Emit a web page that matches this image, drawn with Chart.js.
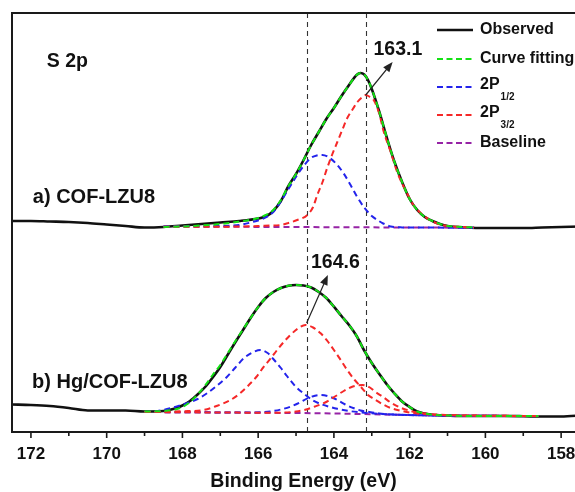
<!DOCTYPE html>
<html><head><meta charset="utf-8">
<script src="https://cdn.jsdelivr.net/npm/chart.js@4.4.1/dist/chart.umd.min.js"></script>
<style>
html,body{margin:0;padding:0;overflow:hidden;background:#fff;width:575px;height:492px}
#wrap{width:600px;height:492px;position:relative}
</style>
</head><body><div id="wrap"><canvas id="c" width="600" height="492"></canvas></div>
<script>
// ---------- tick labels ----------
const xMajorTicks = [172, 170, 168, 166, 164, 162, 160, 158];
const xMinorTicks = [171, 169, 167, 165, 163, 161, 159];
const peakLines = [164.7, 163.15];

// ---------- a) COF-LZU8 (upper spectrum) ----------
const aObsE = [172.5,172,171.5,171,170.5,170,169.5,169,168.5,168,167.5,167,166.5,166,165.8,165.6,165.4,165.2,165,164.8,164.6,164.4,164.2,164,163.8,163.6,163.4,163.3,163.2,163.1,163,162.8,162.6,162.4,162.2,162,161.8,161.6,161.4,161.2,161,160.5,160,159.5,159,158.5,158,157.5,157];
const aObsI = [211,211,210.5,210,209,207.5,206,204.5,205,206.5,208,209.5,211,213.5,215.5,221,231,246,258,272,287,300,313,324,336,347,357,359,357.5,352,343,320,294,270,250,233,222,215,211,208,206,204.5,204,204,204,204.5,205,205.5,206];

const aFitE = [168.5,168,167.5,167,166.5,166,165.8,165.6,165.4,165.2,165,164.8,164.6,164.4,164.2,164,163.8,163.6,163.4,163.3,163.2,163.1,163,162.8,162.6,162.4,162.2,162,161.8,161.6,161.4,161.2,161,160.6,160.3];
const aFitI = [205,205.5,206.5,208,210.5,214,217,222,232,246,258,272,287,300,313,324,336,347,357,359,357.5,352,343,320,294,270,250,233,222,215,211,208,206,205,204.5];

const aP12E = [168.5,168,167.5,167,166.5,166.2,165.85,165.6,165.41,165.2,164.97,164.8,164.62,164.45,164.31,164.15,163.91,163.75,163.56,163.4,163.21,163,162.85,162.7,162.5,162.2,161.5,160.3];
const aP12I = [205.5,205.6,205.8,206,207,209.5,213.7,220,230,243,257,266,273.7,276.5,277,275,267,259,247,236,225,216,212,208.5,205.5,204.6,204.4,204.3];

const aP32E = [168.5,167,166.5,166,165.7,165.41,165.2,164.97,164.7,164.55,164.44,164.3,164.18,164.05,163.91,163.78,163.65,163.5,163.38,163.25,163.16,163.05,162.95,162.8,162.69,162.5,162.32,162.1,161.9,161.65,161.44,161.2,160.99,160.6,160.3];
const aP32I = [205.3,205.3,205.5,206,206.5,207,209,212,217,225,237,250,263.7,277,290,302,313.7,323,330,335,337,335,332,318,301,280,259,241,227,217,211.5,207.5,206,205,204.5];

const aBaseE = [168.5,166,164,162,160.3];
const aBaseI = [205.5,205.1,204.8,204.5,204.3];

// ---------- b) Hg/COF-LZU8 (lower spectrum) ----------
const bObsE = [172.5,172,171.5,171,170.5,170,169.5,169,168.5,168.2,168,167.8,167.6,167.4,167.2,167,166.8,166.6,166.4,166.2,166,165.8,165.6,165.4,165.2,165,164.8,164.6,164.4,164.2,164,163.8,163.6,163.4,163.2,163,162.8,162.6,162.4,162.2,162,161.8,161.6,161.4,161,160.5,160,159.5,159,158.5,158,157.5,157];
const bObsI = [27.5,27,26,24,21.5,21.5,21.5,20.5,21,23.5,26.5,31,37.5,45,54.5,65,77.5,90,102,114,125,134,140,144,146.3,147,146.5,144.5,140,134,125.3,116,107,96,81.5,69,58,47.5,38.5,30.5,25,20.5,18.5,17.2,16.5,16,16,16,15.8,15.5,15.5,16.5,18];

const bFitE = [169,168.5,168.2,168,167.8,167.6,167.4,167.2,167,166.8,166.6,166.4,166.2,166,165.8,165.6,165.4,165.2,165,164.8,164.6,164.4,164.2,164,163.8,163.6,163.4,163.2,163,162.8,162.6,162.4,162.2,162,161.8,161.6,161.4,161,160.5,160,159.5,159,158.6];
const bFitI = [20.5,21,22.5,25,30,37.5,46.5,57,67,79,91,102.5,114,125,134,140,144,146.3,147,146.5,144.5,140,134,125.3,116,107,96,81.5,69,58,47.5,38.5,30.5,25,20.5,18.5,17.2,16.5,16,16,16,16,16];

const bP12aE = [169,168.76,168.5,168.2,167.88,167.6,167.35,167.1,166.82,166.6,166.38,166.15,165.94,165.75,165.6,165.4,165.24,165,164.8,164.55,164.35,164.1,163.91,163.6,163.2,162.8,162.3,161.5,160,158.6];
const bP12aI = [20,20.5,22,25,28.7,33,38.7,46,55.3,64.5,73.7,79.5,82,79,73,64,56,45,38.5,31.5,28,25,23.2,21,19.3,18.2,17.3,16.6,16.2,16];

const bP12bE = [169,167,166.2,165.9,165.68,165.4,165.15,164.9,164.7,164.5,164.35,164.15,163.91,163.7,163.47,163.3,163.12,162.8,162.3,161.5,160,158.6];
const bP12bI = [20,19.6,19.6,19.8,20.5,22.5,25.3,29.5,33.7,36.3,37,35.7,32,27.5,23.7,21.5,20.3,18.5,17.3,16.6,16.2,16];

const bP32aE = [169,168.5,168,167.44,167.1,166.73,166.5,166.29,166.05,165.85,165.65,165.5,165.3,165.15,164.95,164.75,164.55,164.35,164.15,164,163.82,163.65,163.45,163.29,163.1,162.94,162.7,162.5,162.2,161.97,161.5,160.5,158.6];
const bP32aI = [20,20.3,20.8,22,26,32,38,45.3,55,65.3,74.5,82,91,97,103.5,107,104.5,98.7,90,82,72,62,52,45.3,37,33,27.5,24,21,19.3,17.5,16.5,16];

const bP32bE = [169,167,165.5,165,164.79,164.5,164.18,163.95,163.74,163.5,163.25,163.05,162.9,162.7,162.5,162.25,161.97,161.6,161,160,158.6];
const bP32bI = [20,19.5,19.2,20.5,22,25.5,30.5,36,41,45.5,47,44.5,40,35,29.5,24.5,21,18.5,17,16.3,16];

const bBaseE = [169,166,164,162,160,158.6];
const bBaseI = [20,19.3,18.5,17,16.2,16];

// ---------- helpers ----------
const pts = (E, I) => E.map((e, i) => ({x: e, y: I[i]}));
const GREEN = 'rgb(20,225,20)', BLUE = 'rgb(35,35,235)', RED = 'rgb(245,40,40)', PURPLE = 'rgb(150,35,165)', BLACK = '#111';
const dashed = (data, color) => ({data, borderColor: color, borderWidth: 2, borderDash: [6, 4], pointRadius: 0, fill: false, cubicInterpolationMode: 'monotone'});
const solid = (data) => ({data, borderColor: BLACK, borderWidth: 2.6, pointRadius: 0, fill: false, cubicInterpolationMode: 'monotone'});

const FONT = '"Liberation Sans", Arial, sans-serif';

const overlay = {
  id: 'overlay',
  beforeDatasetsDraw(chart) {
    const {ctx, chartArea: a, scales: {x}} = chart;
    ctx.save();
    ctx.strokeStyle = '#333';
    ctx.lineWidth = 1.1;
    ctx.setLineDash([5, 4]);
    peakLines.forEach(v => {
      const px = Math.round(x.getPixelForValue(v)) + 0.5;
      ctx.beginPath(); ctx.moveTo(px, a.top); ctx.lineTo(px, a.bottom); ctx.stroke();
    });
    ctx.restore();
  },
  afterDraw(chart) {
    const {ctx, chartArea: a, scales: {x, y}} = chart;
    ctx.save();
    // frame
    ctx.strokeStyle = '#1a1a1a';
    ctx.lineWidth = 2;
    ctx.beginPath();
    ctx.moveTo(a.right + 5, a.top); ctx.lineTo(a.left, a.top); ctx.lineTo(a.left, a.bottom); ctx.lineTo(a.right + 5, a.bottom);
    ctx.stroke();
    // ticks
    ctx.lineWidth = 1.6;
    xMajorTicks.forEach(v => { const px = x.getPixelForValue(v); ctx.beginPath(); ctx.moveTo(px, a.bottom); ctx.lineTo(px, a.bottom + 6); ctx.stroke(); });
    xMinorTicks.forEach(v => { const px = x.getPixelForValue(v); ctx.beginPath(); ctx.moveTo(px, a.bottom); ctx.lineTo(px, a.bottom + 4); ctx.stroke(); });
    // axis title
    ctx.fillStyle = '#111';
    ctx.font = 'bold 19.5px ' + FONT;
    ctx.textAlign = 'center'; ctx.textBaseline = 'middle';
    ctx.fillText('Binding Energy (eV)', (a.left + a.right) / 2 - 2, 482);
    // arrows
    const arrow = (e0, i0, e1, i1) => {
      const x0 = x.getPixelForValue(e0), y0 = y.getPixelForValue(i0);
      const x1 = x.getPixelForValue(e1), y1 = y.getPixelForValue(i1);
      const ang = Math.atan2(y1 - y0, x1 - x0);
      ctx.strokeStyle = '#222'; ctx.fillStyle = '#222'; ctx.lineWidth = 1.2;
      ctx.beginPath(); ctx.moveTo(x0, y0); ctx.lineTo(x1 - 6 * Math.cos(ang), y1 - 6 * Math.sin(ang)); ctx.stroke();
      ctx.beginPath();
      ctx.moveTo(x1, y1);
      ctx.lineTo(x1 - 10 * Math.cos(ang) + 4 * Math.sin(ang), y1 - 10 * Math.sin(ang) - 4 * Math.cos(ang));
      ctx.lineTo(x1 - 10 * Math.cos(ang) - 4 * Math.sin(ang), y1 - 10 * Math.sin(ang) + 4 * Math.cos(ang));
      ctx.closePath(); ctx.fill();
    };
    arrow(163.16, 337, 162.45, 370);
    arrow(164.72, 109, 164.16, 157);
    // text labels
    ctx.fillStyle = '#111';
    ctx.textBaseline = 'middle';
    ctx.textAlign = 'center';
    ctx.font = 'bold 19.5px ' + FONT;
    ctx.fillText('163.1', x.getPixelForValue(162.31), y.getPixelForValue(382));
    ctx.fillText('164.6', x.getPixelForValue(163.96), y.getPixelForValue(169));
    ctx.textAlign = 'left';
    ctx.font = 'bold 19.5px ' + FONT;
    ctx.fillText('S 2p', x.getPixelForValue(171.58), y.getPixelForValue(370));
    ctx.font = 'bold 20px ' + FONT;
    ctx.fillText('a) COF-LZU8', x.getPixelForValue(171.95), y.getPixelForValue(235));
    ctx.fillText('b) Hg/COF-LZU8', x.getPixelForValue(171.97), y.getPixelForValue(50));
    // legend
    const items = [
      {t: 'Observed', c: BLACK, solid: true},
      {t: 'Curve fitting', c: GREEN},
      {t: '2P', sub: '1/2', c: BLUE},
      {t: '2P', sub: '3/2', c: RED},
      {t: 'Baseline', c: PURPLE}
    ];
    const rows = [30, 59, 87, 115, 143];
    items.forEach((it, k) => {
      const ry = rows[k];
      ctx.strokeStyle = it.c;
      ctx.lineWidth = it.solid ? 2.4 : 2.2;
      ctx.setLineDash(it.solid ? [] : [6, 3.5]);
      ctx.beginPath(); ctx.moveTo(437, ry); ctx.lineTo(473, ry); ctx.stroke();
      ctx.setLineDash([]);
      ctx.fillStyle = '#111';
      ctx.font = 'bold 16px ' + FONT;
      ctx.textAlign = 'left'; ctx.textBaseline = 'middle';
      ctx.fillText(it.t, 480, ry - (it.sub ? 2 : 0));
      if (it.sub) {
        const w = ctx.measureText(it.t).width;
        ctx.font = 'bold 10px ' + FONT;
        ctx.fillText(it.sub, 480 + w + 1, ry + 10);
      }
    });
    ctx.restore();
  }
};

new Chart(document.getElementById('c'), {
  type: 'line',
  data: {
    datasets: [
      dashed(pts(aFitE, aFitI), GREEN),
      dashed(pts(bFitE, bFitI), GREEN),
      dashed(pts(aP32E, aP32I), RED),
      dashed(pts(bP32aE, bP32aI), RED),
      dashed(pts(bP32bE, bP32bI), RED),
      dashed(pts(aP12E, aP12I), BLUE),
      dashed(pts(bP12aE, bP12aI), BLUE),
      dashed(pts(bP12bE, bP12bI), BLUE),
      dashed(pts(aBaseE, aBaseI), PURPLE),
      dashed(pts(bBaseE, bBaseI), PURPLE),
      solid(pts(aObsE, aObsI)),
      solid(pts(bObsE, bObsI))
    ]
  },
  options: {
    responsive: false,
    animation: false,
    devicePixelRatio: 1,
    layout: {padding: {top: 13, left: 12, right: 1, bottom: 0}},
    plugins: {legend: {display: false}, tooltip: {enabled: false}},
    scales: {
      x: {
        type: 'linear', min: 157, max: 172.5, reverse: true,
        grid: {display: false, drawTicks: false},
        border: {display: false},
        afterBuildTicks: s => { s.ticks = xMajorTicks.map(v => ({value: v})); },
        afterFit: s => { s.height = 60; },
        ticks: {
          autoSkip: false, maxRotation: 0, padding: 12, color: '#111',
          font: {family: FONT, size: 17, weight: 'bold'},
          callback: v => String(v)
        }
      },
      y: {display: false, min: 0, max: 419}
    }
  },
  plugins: [overlay]
});
</script></body></html>
